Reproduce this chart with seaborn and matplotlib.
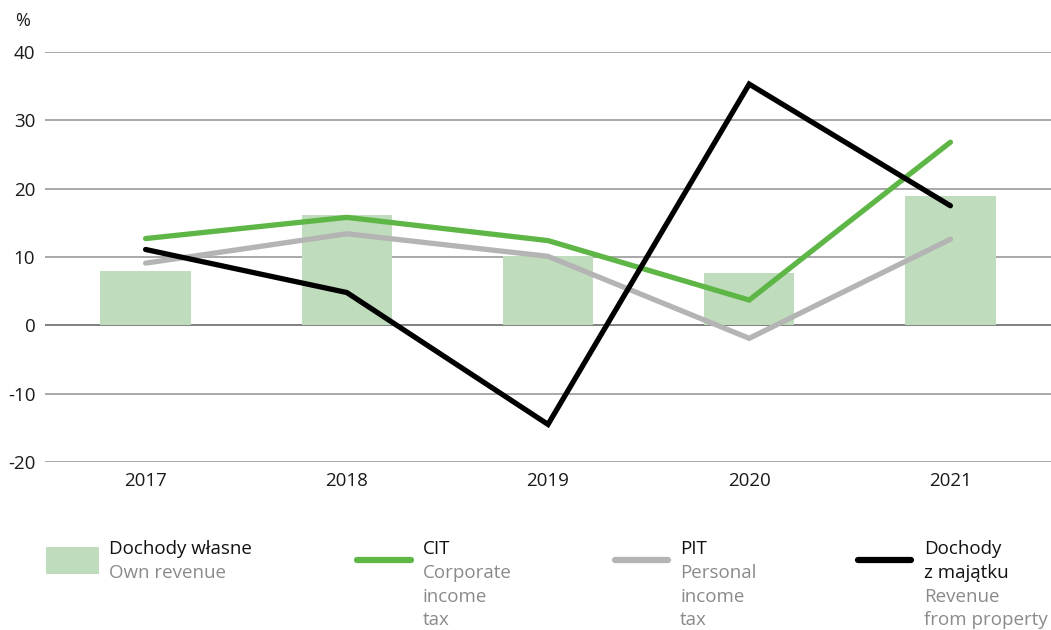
import matplotlib
matplotlib.use("Agg")
import matplotlib.pyplot as plt
import seaborn as sns
import pandas as pd
from matplotlib.lines import Line2D
from matplotlib.patches import Rectangle

# Year-on-year change, %
years = ["2017", "2018", "2019", "2020", "2021"]
own_revenue = [7.9, 16.2, 10.1, 7.6, 19.0]
cit = [12.7, 15.8, 12.4, 3.7, 26.8]
pit = [9.1, 13.4, 10.1, -1.9, 12.6]
property_revenue = [11.1, 4.8, -14.5, 35.3, 17.5]

y_ticks = [-20, -10, 0, 10, 20, 30, 40]

BAR = "#bfdcbc"
GREEN = "#5db645"
GREY = "#b4b4b4"
BLACK = "#000000"
SUB = "#8a8a8a"

sns.set_theme(style="white")
plt.rcParams["font.family"] = ["Open Sans", "DejaVu Sans"]

fig = plt.figure(figsize=(10.51, 6.30), dpi=100)
ax = fig.add_axes([45 / 1051, 1 - 462 / 630, 1006 / 1051, 410 / 630])

bars = pd.DataFrame({"year": years, "value": own_revenue})
sns.barplot(data=bars, x="year", y="value", color=BAR, saturation=1,
            width=0.45, linewidth=0, ax=ax, zorder=2)

lines = pd.DataFrame({
    "year": years * 3,
    "value": cit + pit + property_revenue,
    "series": ["CIT"] * 5 + ["PIT"] * 5 + ["Property"] * 5,
})
sns.lineplot(data=lines, x="year", y="value", hue="series",
             palette={"CIT": GREEN, "PIT": GREY, "Property": BLACK},
             hue_order=["PIT", "CIT", "Property"],
             linewidth=3.8, legend=False, ax=ax, zorder=3,
             solid_capstyle="round", solid_joinstyle="miter")

ax.set_xlim(-0.5, 4.5)
ax.set_ylim(-20, 40)
ax.set_yticks(y_ticks)
ax.set_yticklabels([str(t) for t in y_ticks])
for t in y_ticks:
    ax.axhline(t, color="#808080" if t == 0 else "#a8a8a8", lw=1.4, zorder=1)
for s in ax.spines.values():
    s.set_visible(False)
ax.set_xlabel("")
ax.set_ylabel("")
ax.tick_params(axis="both", length=0, labelsize=13.5, colors="#1a1a1a")
ax.tick_params(axis="y", pad=7)
ax.tick_params(axis="x", pad=7)

fig.text(15 / 1051, 1 - 21 / 630, "%", fontsize=13, color="#1a1a1a", va="center")

# Legend built by hand in four columns
def fy(py):
    return 1 - py / 630

fig.patches.append(Rectangle((46 / 1051, fy(574)), 53 / 1051, 27 / 630,
                             transform=fig.transFigure, color=BAR, lw=0))
for x0, x1, c in [(357, 411, GREEN), (615, 668, GREY), (858, 911, BLACK)]:
    fig.add_artist(Line2D([x0 / 1051, x1 / 1051], [fy(560), fy(560)],
                          transform=fig.transFigure, color=c, lw=4.5,
                          solid_capstyle="round"))

entries = [
    (109, ["Dochody własne"], ["Own revenue"]),
    (423, ["CIT"], ["Corporate", "income", "tax"]),
    (680, ["PIT"], ["Personal", "income", "tax"]),
    (924, ["Dochody", "z majątku"], ["Revenue", "from property"]),
]
step = 23.8
for x, main, sub in entries:
    y = 549
    for line in main:
        fig.text(x / 1051, fy(y), line, fontsize=13.5, color="#111111", va="center")
        y += step
    for line in sub:
        fig.text(x / 1051, fy(y), line, fontsize=13.5, color=SUB, va="center")
        y += step

fig.savefig("out.png", dpi=100)
